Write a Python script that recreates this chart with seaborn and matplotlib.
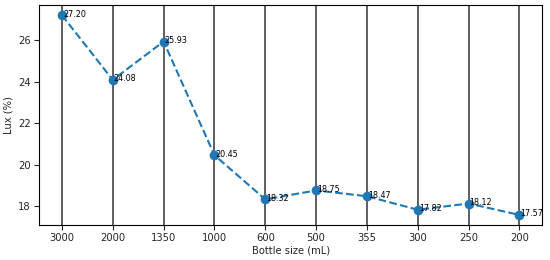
import pandas as pd
import matplotlib
matplotlib.use("Agg")
import matplotlib.pyplot as plt
import seaborn as sns

bottle_sizes = ["3000", "2000", "1350", "1000", "600", "500", "355", "300", "250", "200"]
lux_values = [27.20, 24.08, 25.93, 20.45, 18.32, 18.75, 18.47, 17.82, 18.12, 17.57]

df = pd.DataFrame({"size": bottle_sizes, "lux": lux_values})
df["pos"] = range(len(df))

sns.set_style("ticks")
plt.rcParams["font.family"] = ["DejaVu Sans"]

fig, ax = plt.subplots(figsize=(5.5, 2.6), dpi=100)
sns.lineplot(data=df, x="pos", y="lux", ax=ax, color="#1f77b4",
             linestyle="--", marker="o", markersize=7, markeredgewidth=0,
             linewidth=1.5)

# value labels next to each point
for x, y in zip(df["pos"], df["lux"]):
    ax.text(x + 0.02, y + 0.05, f"{y:.2f}", fontsize=5.8, color="black",
            va="center", ha="left")

ax.set_xticks(df["pos"])
ax.set_xticklabels(bottle_sizes)
ax.grid(axis="x", color="#333333", linewidth=1.1)
ax.set_axisbelow(True)
ax.set_yticks([18, 20, 22, 24, 26])
ax.tick_params(labelsize=7.2, pad=2.5)
ax.set_xlabel("Bottle size (mL)", fontsize=7.2, labelpad=1.5)
ax.set_ylabel("Lux (%)", fontsize=7.2, labelpad=3)
for s in ax.spines.values():
    s.set_color("black")

plt.subplots_adjust(left=0.071, right=0.986, top=0.98, bottom=0.135)
plt.savefig("out.png", dpi=100)
plt.close()
